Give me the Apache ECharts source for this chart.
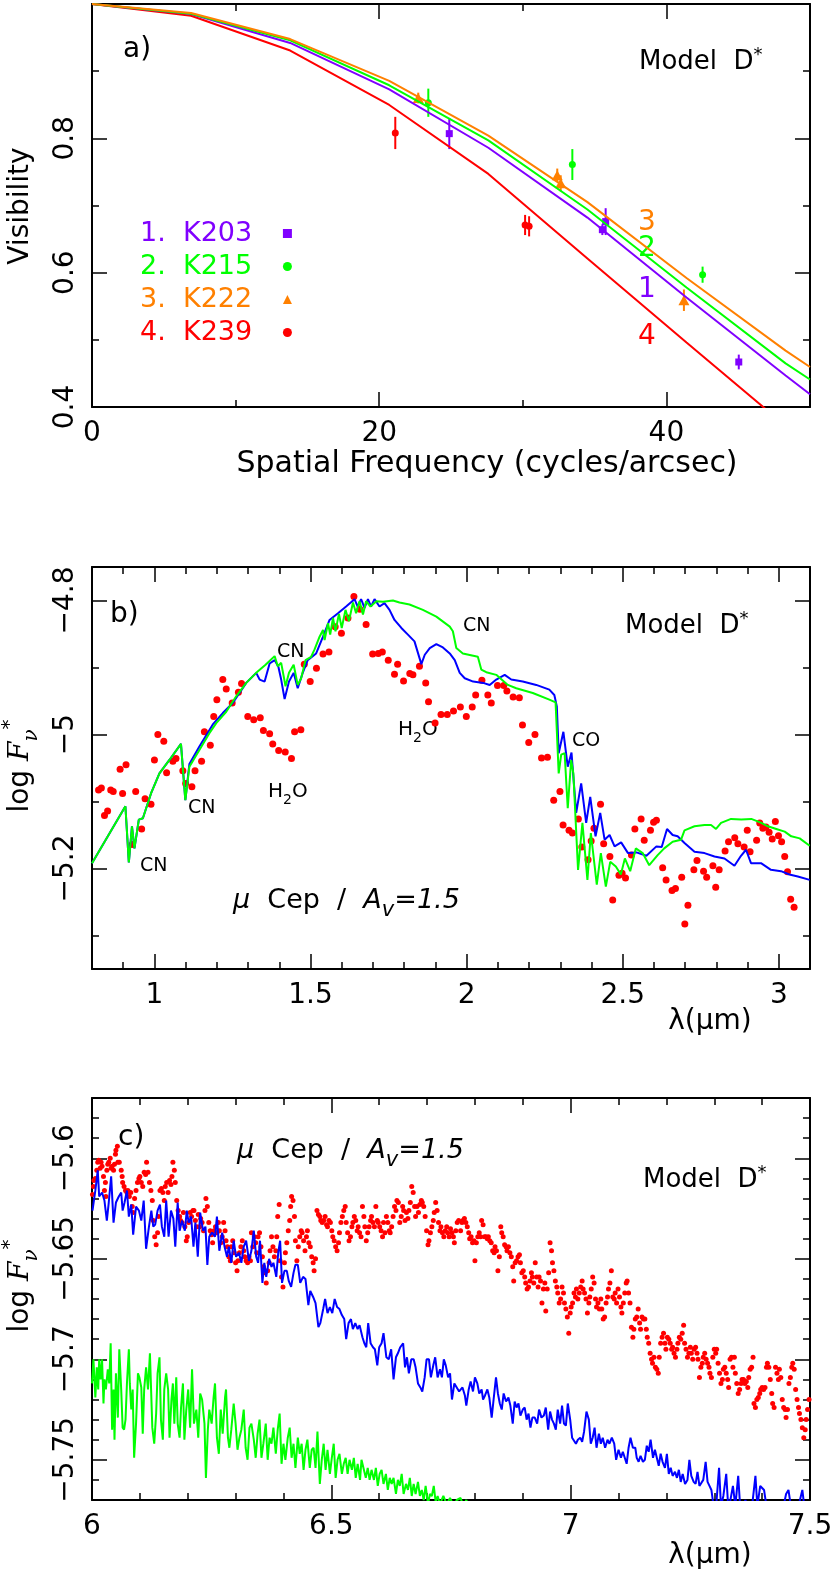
<!DOCTYPE html>
<html>
<head>
<meta charset="utf-8">
<title>Model D* visibilities and spectra</title>
<script src="https://cdn.jsdelivr.net/npm/echarts@6.0.0/dist/echarts.min.js"></script>
<style>
html, body { margin: 0; padding: 0; background: #fff; }
#chart { width: 830px; height: 1571px; }
</style>
</head>
<body>
<div id="chart"></div>
<script>
var FONT = '"DejaVu Sans", sans-serif';
var PURPLE = '#8000ff', GREEN = '#00ff00', ORANGE = '#ff8000', RED = '#ff0000', BLUE = '#0000ff';

// ---- panel a : visibilities
var freqKnots = [0, 6.9, 13.8, 20.7, 27.6, 34.5, 41.4, 48.3, 50];
var modelK203 = [1, 0.985, 0.942, 0.873, 0.786, 0.682, 0.563, 0.447, 0.419];
var modelK215 = [1, 0.9856, 0.9458, 0.879, 0.797, 0.694, 0.578, 0.465, 0.441];
var modelK222 = [1, 0.9866, 0.9478, 0.8855, 0.804, 0.705, 0.592, 0.484, 0.4595];
var modelK239 = [1, 0.9825, 0.9307, 0.8497, 0.747, 0.621, 0.496, 0.372, 0.341];

var obsK203 = [[24.88, 0.807], [35.54, 0.664], [35.77, 0.676], [45.04, 0.467]];
var errK203 = [0.023, 0.008, 0.020, 0.011];
var obsK215 = [[23.42, 0.853], [33.45, 0.761], [42.52, 0.597]];
var errK215 = [0.021, 0.023, 0.012];
var obsK222 = [[22.72, 0.860], [32.40, 0.745], [32.64, 0.733], [41.22, 0.559]];
var errK222 = [0.008, 0.010, 0.012, 0.016];
var obsK239 = [[21.12, 0.808], [30.16, 0.671], [30.44, 0.669]];
var errK239 = [0.024, 0.015, 0.015];

var starNames = ['1.  K203', '2.  K215', '3.  K222', '4.  K239'];

var freqTicks = [10, 20, 30, 40], freqMajor = [20, 40], freqLabels = [0, 20, 40];
var visTicks = [0.5, 0.6, 0.7, 0.8, 0.9], visMajor = [0.6, 0.8], visLabels = [0.4, 0.6, 0.8];

// ---- panel b : near-IR spectrum
var nirTicks = [0.9, 1, 1.1, 1.2, 1.3, 1.4, 1.5, 1.6, 1.7, 1.8, 1.9, 2, 2.1, 2.2, 2.3, 2.4, 2.5, 2.6, 2.7, 2.8, 2.9, 3];
var nirMajor = [1, 1.5, 2, 2.5, 3], nirLabels = [1, 1.5, 2, 2.5, 3];
var nirFluxTicks = [-5.3, -5.2, -5.1, -5, -4.9, -4.8], nirFluxMajor = [-5.2, -5, -4.8], nirFluxLabels = [-5.2, -5, -4.8];

var nirGreen = [[0.800,-5.192],[0.907,-5.107],[0.918,-5.191],[0.928,-5.137],[0.936,-5.170],[0.950,-5.127],[0.963,-5.125],[0.989,-5.088],[1.016,-5.058],[1.048,-5.038],[1.085,-5.014],[1.099,-5.098],[1.112,-5.048],[1.144,-5.023],[1.176,-4.998],[1.198,-4.983],[1.230,-4.966],[1.262,-4.943],[1.294,-4.923],[1.326,-4.908],[1.356,-4.896],[1.385,-4.883],[1.395,-4.898],[1.406,-4.893],[1.420,-4.928],[1.431,-4.908],[1.446,-4.896],[1.459,-4.926],[1.470,-4.916],[1.484,-4.889],[1.502,-4.884],[1.513,-4.873],[1.529,-4.854],[1.540,-4.844],[1.545,-4.859],[1.556,-4.834],[1.563,-4.851],[1.572,-4.826],[1.580,-4.846],[1.591,-4.820],[1.600,-4.841],[1.612,-4.814],[1.623,-4.831],[1.636,-4.803],[1.646,-4.819],[1.657,-4.801],[1.668,-4.821],[1.678,-4.801],[1.692,-4.809],[1.711,-4.801],[1.732,-4.802],[1.764,-4.800],[1.785,-4.803],[1.817,-4.806],[1.860,-4.814],[1.903,-4.824],[1.946,-4.839],[1.956,-4.846],[1.967,-4.871],[1.988,-4.879],[2.036,-4.884],[2.047,-4.903],[2.063,-4.907],[2.095,-4.911],[2.132,-4.926],[2.159,-4.931],[2.212,-4.938],[2.265,-4.948],[2.285,-4.952],[2.295,-5.058],[2.303,-5.030],[2.314,-5.028],[2.324,-5.110],[2.335,-5.038],[2.342,-5.058],[2.357,-5.202],[2.371,-5.132],[2.387,-5.217],[2.398,-5.147],[2.417,-5.224],[2.430,-5.177],[2.446,-5.227],[2.460,-5.190],[2.478,-5.197],[2.494,-5.209],[2.507,-5.185],[2.524,-5.204],[2.542,-5.170],[2.564,-5.177],[2.585,-5.195],[2.612,-5.180],[2.633,-5.170],[2.660,-5.160],[2.687,-5.157],[2.698,-5.143],[2.730,-5.137],[2.762,-5.135],[2.783,-5.135],[2.799,-5.141],[2.815,-5.132],[2.847,-5.126],[2.880,-5.127],[2.912,-5.126],[2.944,-5.132],[2.965,-5.137],[2.992,-5.141],[3.019,-5.145],[3.040,-5.152],[3.067,-5.155],[3.099,-5.166]];

var nirBlue = [[0.800,-5.192],[0.907,-5.107],[0.918,-5.191],[0.928,-5.137],[0.936,-5.170],[0.950,-5.127],[0.963,-5.125],[0.989,-5.088],[1.016,-5.058],[1.048,-5.038],[1.085,-5.014],[1.099,-5.098],[1.112,-5.044],[1.144,-5.018],[1.187,-4.985],[1.219,-4.968],[1.251,-4.953],[1.294,-4.923],[1.326,-4.908],[1.337,-4.918],[1.353,-4.921],[1.369,-4.894],[1.385,-4.889],[1.397,-4.899],[1.406,-4.918],[1.417,-4.947],[1.431,-4.921],[1.446,-4.908],[1.459,-4.931],[1.475,-4.908],[1.491,-4.889],[1.518,-4.879],[1.540,-4.854],[1.561,-4.829],[1.588,-4.819],[1.614,-4.809],[1.641,-4.798],[1.651,-4.809],[1.662,-4.798],[1.673,-4.811],[1.684,-4.798],[1.694,-4.809],[1.705,-4.798],[1.721,-4.809],[1.737,-4.804],[1.753,-4.814],[1.769,-4.829],[1.791,-4.841],[1.812,-4.851],[1.833,-4.861],[1.855,-4.895],[1.866,-4.881],[1.882,-4.871],[1.903,-4.865],[1.924,-4.870],[1.946,-4.879],[1.962,-4.889],[1.978,-4.908],[1.994,-4.916],[2.021,-4.921],[2.053,-4.923],[2.074,-4.926],[2.095,-4.918],[2.122,-4.911],[2.143,-4.918],[2.180,-4.921],[2.223,-4.926],[2.265,-4.933],[2.281,-4.941],[2.289,-4.958],[2.295,-5.028],[2.310,-4.996],[2.324,-5.048],[2.336,-5.027],[2.351,-5.117],[2.367,-5.073],[2.383,-5.132],[2.396,-5.093],[2.413,-5.152],[2.428,-5.117],[2.442,-5.157],[2.458,-5.150],[2.474,-5.167],[2.495,-5.161],[2.517,-5.177],[2.544,-5.176],[2.576,-5.181],[2.608,-5.167],[2.625,-5.168],[2.642,-5.141],[2.660,-5.150],[2.676,-5.152],[2.698,-5.162],[2.730,-5.175],[2.762,-5.177],[2.794,-5.182],[2.826,-5.185],[2.858,-5.196],[2.879,-5.181],[2.895,-5.172],[2.911,-5.192],[2.943,-5.192],[2.975,-5.202],[3.007,-5.204],[3.034,-5.209],[3.061,-5.212],[3.099,-5.217]];

var nirObs = [[0.821,-5.083],[0.830,-5.080],[0.840,-5.121],[0.850,-5.114],[0.860,-5.083],[0.868,-5.085],[0.890,-5.052],[0.898,-5.088],[0.909,-5.045],[0.929,-5.164],[0.940,-5.085],[0.959,-5.141],[0.970,-5.096],[0.989,-5.104],[1.000,-5.038],[1.011,-5.000],[1.030,-5.010],[1.039,-5.057],[1.059,-5.040],[1.069,-5.036],[1.091,-5.054],[1.100,-5.073],[1.120,-5.078],[1.130,-5.054],[1.151,-5.040],[1.160,-4.996],[1.179,-5.016],[1.190,-4.973],[1.200,-4.948],[1.219,-4.918],[1.230,-4.932],[1.249,-4.953],[1.269,-4.937],[1.279,-4.924],[1.299,-4.973],[1.318,-4.978],[1.339,-4.975],[1.349,-4.994],[1.369,-4.999],[1.379,-5.014],[1.398,-5.024],[1.419,-5.026],[1.439,-5.036],[1.449,-4.996],[1.469,-4.993],[1.480,-4.895],[1.499,-4.921],[1.519,-4.901],[1.540,-4.880],[1.559,-4.877],[1.579,-4.839],[1.599,-4.849],[1.620,-4.826],[1.639,-4.794],[1.658,-4.813],[1.678,-4.836],[1.699,-4.880],[1.717,-4.879],[1.730,-4.877],[1.749,-4.889],[1.769,-4.910],[1.779,-4.895],[1.798,-4.920],[1.818,-4.909],[1.828,-4.911],[1.849,-4.898],[1.869,-4.923],[1.878,-4.951],[1.899,-4.983],[1.918,-4.970],[1.938,-4.970],[1.958,-4.965],[1.980,-4.959],[1.999,-4.973],[2.018,-4.959],[2.029,-4.941],[2.049,-4.919],[2.068,-4.941],[2.079,-4.953],[2.099,-4.927],[2.119,-4.927],[2.129,-4.935],[2.149,-4.944],[2.169,-4.945],[2.179,-4.986],[2.199,-5.012],[2.219,-5.000],[2.240,-5.035],[2.259,-5.034],[2.279,-5.098],[2.299,-5.085],[2.309,-5.135],[2.328,-5.143],[2.339,-5.147],[2.358,-5.126],[2.369,-5.168],[2.389,-5.187],[2.399,-5.159],[2.408,-5.140],[2.429,-5.104],[2.439,-5.163],[2.459,-5.182],[2.468,-5.247],[2.488,-5.210],[2.498,-5.207],[2.509,-5.214],[2.528,-5.180],[2.539,-5.141],[2.559,-5.126],[2.569,-5.158],[2.589,-5.143],[2.599,-5.131],[2.608,-5.128],[2.628,-5.199],[2.639,-5.217],[2.658,-5.233],[2.669,-5.230],[2.689,-5.213],[2.699,-5.283],[2.709,-5.255],[2.728,-5.202],[2.738,-5.188],[2.759,-5.204],[2.769,-5.213],[2.789,-5.196],[2.798,-5.228],[2.809,-5.202],[2.828,-5.174],[2.839,-5.160],[2.859,-5.154],[2.869,-5.163],[2.889,-5.168],[2.899,-5.143],[2.908,-5.175],[2.929,-5.158],[2.939,-5.132],[2.949,-5.140],[2.959,-5.138],[2.969,-5.146],[2.979,-5.156],[2.989,-5.130],[2.999,-5.151],[3.009,-5.160],[3.019,-5.182],[3.028,-5.205],[3.038,-5.246],[3.049,-5.258]];

// ---- panel c : mid-IR spectrum
var midTicks = [6.1, 6.2, 6.3, 6.4, 6.5, 6.6, 6.7, 6.8, 6.9, 7, 7.1, 7.2, 7.3, 7.4];
var midMajor = [6.5, 7], midLabels = [6, 6.5, 7, 7.5];
var midFluxTicks = [-5.76, -5.75, -5.74, -5.73, -5.72, -5.71, -5.7, -5.69, -5.68, -5.67, -5.66, -5.65, -5.64, -5.63, -5.62, -5.61, -5.6, -5.59, -5.58];
var midFluxMajor = [-5.75, -5.7, -5.65, -5.6], midFluxLabels = [-5.75, -5.7, -5.65, -5.6];

var midBlue = [[6.001,-5.626],[6.007,-5.616],[6.012,-5.606],[6.015,-5.619],[6.021,-5.617],[6.026,-5.621],[6.031,-5.631],[6.035,-5.622],[6.040,-5.609],[6.045,-5.632],[6.050,-5.622],[6.056,-5.619],[6.061,-5.617],[6.064,-5.626],[6.068,-5.622],[6.073,-5.616],[6.077,-5.629],[6.082,-5.623],[6.086,-5.638],[6.092,-5.624],[6.098,-5.626],[6.103,-5.631],[6.108,-5.621],[6.113,-5.645],[6.119,-5.634],[6.124,-5.626],[6.128,-5.634],[6.132,-5.633],[6.137,-5.626],[6.142,-5.623],[6.146,-5.634],[6.151,-5.639],[6.155,-5.621],[6.160,-5.639],[6.165,-5.626],[6.170,-5.630],[6.174,-5.644],[6.179,-5.622],[6.183,-5.636],[6.188,-5.631],[6.194,-5.636],[6.198,-5.626],[6.202,-5.632],[6.207,-5.629],[6.212,-5.644],[6.216,-5.632],[6.221,-5.649],[6.226,-5.627],[6.232,-5.636],[6.237,-5.634],[6.241,-5.653],[6.245,-5.639],[6.251,-5.637],[6.257,-5.639],[6.261,-5.629],[6.266,-5.646],[6.272,-5.637],[6.277,-5.644],[6.282,-5.649],[6.286,-5.644],[6.291,-5.652],[6.296,-5.641],[6.301,-5.649],[6.307,-5.647],[6.312,-5.652],[6.317,-5.644],[6.322,-5.641],[6.328,-5.651],[6.333,-5.646],[6.338,-5.636],[6.343,-5.649],[6.347,-5.652],[6.351,-5.641],[6.356,-5.662],[6.360,-5.652],[6.364,-5.659],[6.370,-5.650],[6.375,-5.654],[6.379,-5.652],[6.385,-5.659],[6.389,-5.647],[6.393,-5.641],[6.397,-5.662],[6.402,-5.656],[6.407,-5.656],[6.411,-5.661],[6.416,-5.664],[6.421,-5.657],[6.425,-5.653],[6.430,-5.653],[6.435,-5.662],[6.441,-5.659],[6.446,-5.660],[6.452,-5.673],[6.456,-5.666],[6.462,-5.669],[6.467,-5.672],[6.473,-5.684],[6.477,-5.682],[6.483,-5.675],[6.487,-5.670],[6.492,-5.677],[6.497,-5.674],[6.502,-5.677],[6.507,-5.670],[6.512,-5.674],[6.517,-5.675],[6.522,-5.678],[6.527,-5.680],[6.531,-5.690],[6.536,-5.682],[6.541,-5.680],[6.545,-5.685],[6.550,-5.682],[6.555,-5.685],[6.559,-5.683],[6.565,-5.689],[6.569,-5.692],[6.573,-5.694],[6.577,-5.682],[6.582,-5.692],[6.587,-5.694],[6.591,-5.695],[6.596,-5.703],[6.600,-5.694],[6.605,-5.692],[6.609,-5.687],[6.615,-5.699],[6.620,-5.700],[6.625,-5.695],[6.630,-5.710],[6.635,-5.699],[6.639,-5.697],[6.644,-5.694],[6.650,-5.692],[6.654,-5.704],[6.658,-5.699],[6.662,-5.707],[6.667,-5.700],[6.672,-5.700],[6.676,-5.704],[6.681,-5.712],[6.686,-5.714],[6.690,-5.716],[6.695,-5.709],[6.699,-5.700],[6.704,-5.700],[6.708,-5.709],[6.713,-5.703],[6.717,-5.699],[6.722,-5.709],[6.727,-5.705],[6.731,-5.709],[6.735,-5.700],[6.739,-5.703],[6.744,-5.709],[6.748,-5.707],[6.752,-5.720],[6.757,-5.712],[6.762,-5.714],[6.767,-5.716],[6.774,-5.714],[6.779,-5.718],[6.782,-5.723],[6.787,-5.715],[6.791,-5.711],[6.796,-5.716],[6.800,-5.709],[6.805,-5.712],[6.809,-5.717],[6.814,-5.715],[6.817,-5.720],[6.821,-5.718],[6.826,-5.715],[6.830,-5.719],[6.835,-5.729],[6.839,-5.720],[6.844,-5.709],[6.848,-5.717],[6.852,-5.722],[6.856,-5.725],[6.860,-5.717],[6.865,-5.721],[6.870,-5.719],[6.874,-5.723],[6.879,-5.732],[6.883,-5.721],[6.887,-5.724],[6.891,-5.722],[6.895,-5.728],[6.900,-5.725],[6.904,-5.724],[6.908,-5.730],[6.912,-5.727],[6.916,-5.734],[6.920,-5.729],[6.925,-5.729],[6.930,-5.732],[6.934,-5.725],[6.939,-5.729],[6.944,-5.728],[6.948,-5.724],[6.953,-5.735],[6.957,-5.726],[6.961,-5.730],[6.965,-5.732],[6.969,-5.735],[6.973,-5.725],[6.978,-5.732],[6.982,-5.723],[6.986,-5.732],[6.990,-5.733],[6.994,-5.722],[6.999,-5.730],[7.003,-5.739],[7.007,-5.739],[7.011,-5.742],[7.015,-5.740],[7.020,-5.739],[7.024,-5.741],[7.028,-5.736],[7.033,-5.726],[7.038,-5.730],[7.042,-5.742],[7.046,-5.739],[7.050,-5.734],[7.054,-5.744],[7.059,-5.737],[7.063,-5.742],[7.067,-5.739],[7.072,-5.744],[7.077,-5.740],[7.081,-5.742],[7.086,-5.739],[7.091,-5.742],[7.095,-5.750],[7.100,-5.745],[7.105,-5.749],[7.109,-5.746],[7.113,-5.749],[7.117,-5.752],[7.121,-5.744],[7.125,-5.739],[7.130,-5.744],[7.135,-5.744],[7.138,-5.749],[7.142,-5.751],[7.146,-5.748],[7.151,-5.751],[7.155,-5.750],[7.159,-5.743],[7.163,-5.746],[7.167,-5.740],[7.172,-5.749],[7.176,-5.745],[7.180,-5.749],[7.184,-5.753],[7.188,-5.747],[7.192,-5.751],[7.197,-5.754],[7.201,-5.747],[7.205,-5.757],[7.209,-5.754],[7.213,-5.758],[7.218,-5.756],[7.222,-5.759],[7.226,-5.755],[7.230,-5.761],[7.234,-5.757],[7.239,-5.762],[7.244,-5.760],[7.248,-5.750],[7.252,-5.758],[7.257,-5.761],[7.261,-5.762],[7.265,-5.756],[7.269,-5.763],[7.273,-5.763],[7.277,-5.760],[7.282,-5.751],[7.286,-5.761],[7.290,-5.763],[7.294,-5.765],[7.298,-5.772],[7.304,-5.773],[7.310,-5.754],[7.314,-5.773],[7.319,-5.768],[7.325,-5.757],[7.329,-5.773],[7.333,-5.771],[7.339,-5.763],[7.344,-5.773],[7.350,-5.758],[7.354,-5.773],[7.361,-5.773],[7.365,-5.770],[7.370,-5.773],[7.375,-5.772],[7.379,-5.773],[7.386,-5.758],[7.390,-5.773],[7.396,-5.763],[7.400,-5.764],[7.404,-5.765],[7.409,-5.773],[7.445,-5.773],[7.450,-5.767],[7.455,-5.765],[7.460,-5.773],[7.476,-5.773],[7.480,-5.769],[7.484,-5.765],[7.488,-5.773],[7.501,-5.773]];

var midGreen = [[6.000,-5.712],[6.003,-5.700],[6.007,-5.719],[6.010,-5.704],[6.013,-5.715],[6.015,-5.700],[6.018,-5.710],[6.021,-5.700],[6.024,-5.722],[6.026,-5.710],[6.029,-5.715],[6.033,-5.705],[6.036,-5.712],[6.039,-5.692],[6.042,-5.735],[6.045,-5.715],[6.047,-5.740],[6.050,-5.707],[6.054,-5.729],[6.057,-5.695],[6.061,-5.715],[6.064,-5.734],[6.067,-5.735],[6.070,-5.730],[6.073,-5.712],[6.077,-5.695],[6.079,-5.712],[6.082,-5.725],[6.085,-5.715],[6.088,-5.749],[6.092,-5.732],[6.096,-5.707],[6.099,-5.709],[6.103,-5.714],[6.106,-5.737],[6.109,-5.715],[6.113,-5.704],[6.117,-5.715],[6.121,-5.697],[6.126,-5.734],[6.130,-5.742],[6.134,-5.727],[6.137,-5.707],[6.141,-5.699],[6.144,-5.730],[6.148,-5.740],[6.151,-5.715],[6.155,-5.707],[6.159,-5.715],[6.162,-5.739],[6.166,-5.720],[6.169,-5.712],[6.172,-5.732],[6.176,-5.709],[6.179,-5.732],[6.183,-5.739],[6.186,-5.724],[6.190,-5.712],[6.193,-5.740],[6.197,-5.725],[6.201,-5.715],[6.205,-5.734],[6.209,-5.705],[6.213,-5.732],[6.218,-5.725],[6.222,-5.739],[6.226,-5.717],[6.230,-5.720],[6.235,-5.732],[6.238,-5.759],[6.242,-5.735],[6.245,-5.725],[6.250,-5.732],[6.254,-5.719],[6.257,-5.712],[6.261,-5.739],[6.265,-5.747],[6.269,-5.725],[6.273,-5.737],[6.278,-5.719],[6.280,-5.715],[6.284,-5.739],[6.287,-5.744],[6.291,-5.735],[6.296,-5.722],[6.300,-5.732],[6.304,-5.745],[6.308,-5.739],[6.312,-5.735],[6.317,-5.725],[6.321,-5.744],[6.325,-5.750],[6.329,-5.734],[6.333,-5.732],[6.338,-5.740],[6.342,-5.749],[6.346,-5.737],[6.350,-5.730],[6.354,-5.749],[6.358,-5.742],[6.363,-5.732],[6.367,-5.750],[6.371,-5.739],[6.375,-5.742],[6.379,-5.734],[6.384,-5.747],[6.388,-5.735],[6.392,-5.727],[6.396,-5.752],[6.400,-5.742],[6.404,-5.750],[6.409,-5.739],[6.413,-5.734],[6.417,-5.749],[6.421,-5.742],[6.425,-5.754],[6.430,-5.739],[6.434,-5.747],[6.438,-5.742],[6.442,-5.755],[6.446,-5.745],[6.450,-5.740],[6.455,-5.754],[6.459,-5.745],[6.463,-5.744],[6.467,-5.754],[6.471,-5.736],[6.476,-5.762],[6.480,-5.750],[6.484,-5.742],[6.488,-5.755],[6.492,-5.745],[6.497,-5.757],[6.501,-5.749],[6.505,-5.742],[6.509,-5.759],[6.513,-5.750],[6.517,-5.747],[6.522,-5.757],[6.526,-5.752],[6.530,-5.749],[6.534,-5.757],[6.538,-5.750],[6.543,-5.755],[6.547,-5.749],[6.551,-5.759],[6.555,-5.752],[6.560,-5.760],[6.563,-5.750],[6.568,-5.755],[6.572,-5.759],[6.576,-5.754],[6.580,-5.760],[6.584,-5.755],[6.589,-5.760],[6.593,-5.754],[6.597,-5.763],[6.601,-5.757],[6.605,-5.755],[6.609,-5.762],[6.614,-5.757],[6.618,-5.765],[6.622,-5.759],[6.626,-5.762],[6.630,-5.759],[6.635,-5.767],[6.639,-5.760],[6.643,-5.763],[6.647,-5.757],[6.651,-5.767],[6.656,-5.762],[6.660,-5.765],[6.664,-5.759],[6.668,-5.768],[6.672,-5.762],[6.676,-5.767],[6.681,-5.761],[6.685,-5.768],[6.689,-5.765],[6.693,-5.770],[6.697,-5.763],[6.702,-5.772],[6.706,-5.767],[6.710,-5.768],[6.714,-5.763],[6.718,-5.771],[6.722,-5.768],[6.727,-5.772],[6.734,-5.768],[6.741,-5.772],[6.748,-5.769],[6.756,-5.773],[6.762,-5.770],[6.770,-5.769],[6.776,-5.773],[6.782,-5.770],[6.790,-5.775]];

var midObs = [[6.001,-5.618],[6.003,-5.614],[6.004,-5.611],[6.007,-5.610],[6.010,-5.606],[6.012,-5.602],[6.014,-5.601],[6.017,-5.605],[6.019,-5.602],[6.021,-5.604],[6.024,-5.609],[6.026,-5.616],[6.028,-5.612],[6.029,-5.619],[6.031,-5.606],[6.033,-5.603],[6.035,-5.602],[6.038,-5.600],[6.040,-5.605],[6.042,-5.604],[6.045,-5.606],[6.047,-5.603],[6.049,-5.598],[6.050,-5.596],[6.053,-5.594],[6.054,-5.602],[6.057,-5.602],[6.061,-5.606],[6.063,-5.609],[6.064,-5.612],[6.067,-5.614],[6.070,-5.616],[6.073,-5.617],[6.075,-5.616],[6.078,-5.619],[6.081,-5.617],[6.084,-5.624],[6.086,-5.627],[6.089,-5.620],[6.092,-5.616],[6.095,-5.612],[6.098,-5.610],[6.100,-5.609],[6.103,-5.612],[6.106,-5.614],[6.109,-5.607],[6.112,-5.608],[6.114,-5.602],[6.117,-5.607],[6.120,-5.612],[6.123,-5.616],[6.126,-5.621],[6.128,-5.631],[6.131,-5.639],[6.134,-5.643],[6.137,-5.637],[6.139,-5.629],[6.142,-5.616],[6.145,-5.615],[6.148,-5.617],[6.151,-5.621],[6.153,-5.614],[6.156,-5.612],[6.159,-5.617],[6.162,-5.611],[6.165,-5.613],[6.167,-5.609],[6.169,-5.602],[6.172,-5.606],[6.174,-5.612],[6.177,-5.621],[6.180,-5.626],[6.183,-5.629],[6.185,-5.631],[6.188,-5.632],[6.191,-5.627],[6.194,-5.634],[6.197,-5.641],[6.199,-5.639],[6.202,-5.632],[6.205,-5.627],[6.208,-5.629],[6.211,-5.626],[6.213,-5.626],[6.216,-5.631],[6.219,-5.634],[6.222,-5.628],[6.225,-5.634],[6.227,-5.630],[6.230,-5.632],[6.233,-5.636],[6.236,-5.626],[6.238,-5.620],[6.241,-5.624],[6.244,-5.632],[6.247,-5.636],[6.250,-5.638],[6.252,-5.642],[6.255,-5.636],[6.258,-5.634],[6.261,-5.637],[6.264,-5.632],[6.266,-5.636],[6.269,-5.642],[6.272,-5.639],[6.275,-5.632],[6.278,-5.636],[6.280,-5.641],[6.283,-5.644],[6.286,-5.649],[6.289,-5.651],[6.291,-5.644],[6.294,-5.641],[6.297,-5.647],[6.300,-5.652],[6.303,-5.656],[6.305,-5.651],[6.308,-5.647],[6.311,-5.644],[6.314,-5.641],[6.317,-5.646],[6.319,-5.649],[6.322,-5.651],[6.325,-5.652],[6.328,-5.649],[6.331,-5.651],[6.333,-5.637],[6.336,-5.644],[6.339,-5.639],[6.342,-5.642],[6.344,-5.647],[6.347,-5.639],[6.350,-5.637],[6.353,-5.644],[6.356,-5.649],[6.358,-5.654],[6.361,-5.657],[6.364,-5.662],[6.367,-5.656],[6.370,-5.652],[6.372,-5.646],[6.375,-5.639],[6.378,-5.644],[6.381,-5.649],[6.384,-5.646],[6.386,-5.639],[6.388,-5.629],[6.391,-5.623],[6.393,-5.651],[6.396,-5.659],[6.399,-5.664],[6.402,-5.652],[6.404,-5.647],[6.407,-5.642],[6.410,-5.636],[6.413,-5.631],[6.415,-5.624],[6.417,-5.619],[6.420,-5.621],[6.423,-5.629],[6.425,-5.641],[6.428,-5.651],[6.431,-5.644],[6.434,-5.639],[6.437,-5.636],[6.439,-5.637],[6.442,-5.641],[6.445,-5.646],[6.448,-5.639],[6.450,-5.636],[6.453,-5.642],[6.456,-5.644],[6.459,-5.649],[6.462,-5.652],[6.464,-5.656],[6.467,-5.650],[6.470,-5.626],[6.473,-5.628],[6.476,-5.629],[6.478,-5.631],[6.481,-5.632],[6.484,-5.631],[6.487,-5.629],[6.490,-5.633],[6.492,-5.634],[6.495,-5.631],[6.498,-5.632],[6.501,-5.636],[6.503,-5.639],[6.506,-5.641],[6.509,-5.644],[6.512,-5.646],[6.515,-5.642],[6.517,-5.637],[6.520,-5.632],[6.523,-5.629],[6.526,-5.626],[6.529,-5.624],[6.531,-5.632],[6.534,-5.637],[6.537,-5.641],[6.540,-5.639],[6.543,-5.634],[6.545,-5.632],[6.548,-5.629],[6.551,-5.631],[6.554,-5.636],[6.556,-5.634],[6.559,-5.637],[6.562,-5.639],[6.565,-5.624],[6.568,-5.629],[6.570,-5.634],[6.573,-5.641],[6.576,-5.637],[6.579,-5.634],[6.582,-5.631],[6.584,-5.629],[6.587,-5.632],[6.590,-5.634],[6.593,-5.624],[6.596,-5.631],[6.598,-5.632],[6.601,-5.634],[6.604,-5.636],[6.607,-5.639],[6.609,-5.632],[6.612,-5.637],[6.615,-5.629],[6.618,-5.632],[6.621,-5.636],[6.623,-5.637],[6.626,-5.634],[6.629,-5.629],[6.632,-5.624],[6.635,-5.626],[6.637,-5.621],[6.640,-5.622],[6.643,-5.632],[6.646,-5.629],[6.649,-5.624],[6.651,-5.626],[6.654,-5.631],[6.657,-5.627],[6.660,-5.630],[6.662,-5.626],[6.665,-5.622],[6.668,-5.614],[6.671,-5.617],[6.674,-5.624],[6.676,-5.629],[6.679,-5.624],[6.682,-5.627],[6.685,-5.623],[6.688,-5.621],[6.690,-5.622],[6.693,-5.624],[6.696,-5.629],[6.699,-5.636],[6.702,-5.643],[6.704,-5.641],[6.707,-5.637],[6.710,-5.634],[6.713,-5.631],[6.715,-5.627],[6.718,-5.622],[6.721,-5.626],[6.724,-5.632],[6.727,-5.636],[6.729,-5.634],[6.732,-5.637],[6.735,-5.639],[6.738,-5.636],[6.741,-5.634],[6.743,-5.637],[6.746,-5.639],[6.749,-5.635],[6.752,-5.637],[6.755,-5.639],[6.757,-5.642],[6.760,-5.636],[6.763,-5.632],[6.766,-5.631],[6.770,-5.636],[6.773,-5.632],[6.775,-5.631],[6.778,-5.630],[6.781,-5.632],[6.784,-5.634],[6.787,-5.637],[6.789,-5.640],[6.792,-5.639],[6.795,-5.642],[6.798,-5.641],[6.800,-5.651],[6.803,-5.642],[6.806,-5.639],[6.809,-5.637],[6.812,-5.639],[6.814,-5.631],[6.817,-5.633],[6.820,-5.639],[6.823,-5.639],[6.826,-5.640],[6.828,-5.639],[6.831,-5.641],[6.834,-5.642],[6.837,-5.646],[6.840,-5.647],[6.842,-5.644],[6.845,-5.646],[6.848,-5.656],[6.851,-5.649],[6.854,-5.634],[6.856,-5.637],[6.859,-5.639],[6.862,-5.643],[6.865,-5.644],[6.867,-5.646],[6.870,-5.644],[6.873,-5.647],[6.876,-5.649],[6.879,-5.654],[6.881,-5.661],[6.884,-5.652],[6.887,-5.651],[6.890,-5.649],[6.893,-5.648],[6.895,-5.652],[6.898,-5.657],[6.901,-5.656],[6.904,-5.659],[6.906,-5.662],[6.909,-5.665],[6.912,-5.664],[6.915,-5.661],[6.918,-5.657],[6.920,-5.659],[6.923,-5.662],[6.926,-5.652],[6.929,-5.659],[6.932,-5.664],[6.934,-5.659],[6.937,-5.661],[6.940,-5.672],[6.943,-5.665],[6.946,-5.662],[6.948,-5.676],[6.951,-5.665],[6.954,-5.657],[6.957,-5.642],[6.960,-5.646],[6.962,-5.652],[6.965,-5.656],[6.968,-5.661],[6.971,-5.664],[6.973,-5.667],[6.976,-5.672],[6.979,-5.670],[6.982,-5.664],[6.985,-5.667],[6.987,-5.672],[6.990,-5.675],[6.993,-5.679],[6.996,-5.687],[6.999,-5.677],[7.001,-5.674],[7.004,-5.672],[7.007,-5.667],[7.010,-5.669],[7.012,-5.665],[7.015,-5.670],[7.018,-5.667],[7.021,-5.664],[7.024,-5.661],[7.026,-5.665],[7.029,-5.667],[7.032,-5.670],[7.035,-5.677],[7.038,-5.672],[7.040,-5.669],[7.043,-5.665],[7.046,-5.659],[7.049,-5.662],[7.052,-5.670],[7.054,-5.674],[7.057,-5.672],[7.060,-5.675],[7.063,-5.670],[7.065,-5.675],[7.068,-5.680],[7.071,-5.679],[7.074,-5.672],[7.077,-5.669],[7.079,-5.665],[7.082,-5.662],[7.085,-5.656],[7.088,-5.669],[7.091,-5.670],[7.093,-5.667],[7.096,-5.672],[7.099,-5.665],[7.102,-5.669],[7.105,-5.674],[7.107,-5.677],[7.110,-5.672],[7.113,-5.667],[7.116,-5.662],[7.118,-5.661],[7.121,-5.667],[7.124,-5.672],[7.127,-5.684],[7.130,-5.689],[7.132,-5.685],[7.135,-5.680],[7.138,-5.679],[7.141,-5.675],[7.144,-5.682],[7.146,-5.685],[7.149,-5.679],[7.152,-5.680],[7.155,-5.680],[7.158,-5.685],[7.160,-5.689],[7.163,-5.692],[7.166,-5.697],[7.169,-5.700],[7.171,-5.702],[7.174,-5.699],[7.177,-5.704],[7.180,-5.705],[7.183,-5.707],[7.185,-5.699],[7.188,-5.692],[7.191,-5.689],[7.194,-5.687],[7.197,-5.692],[7.199,-5.695],[7.202,-5.689],[7.205,-5.690],[7.208,-5.692],[7.211,-5.695],[7.213,-5.694],[7.216,-5.697],[7.219,-5.699],[7.222,-5.695],[7.224,-5.692],[7.227,-5.689],[7.230,-5.690],[7.233,-5.687],[7.236,-5.683],[7.238,-5.692],[7.241,-5.695],[7.244,-5.699],[7.247,-5.697],[7.250,-5.694],[7.252,-5.697],[7.255,-5.700],[7.258,-5.695],[7.261,-5.694],[7.264,-5.697],[7.266,-5.700],[7.269,-5.709],[7.272,-5.704],[7.275,-5.702],[7.277,-5.699],[7.280,-5.697],[7.283,-5.700],[7.286,-5.702],[7.289,-5.704],[7.291,-5.707],[7.294,-5.709],[7.297,-5.699],[7.300,-5.695],[7.303,-5.697],[7.305,-5.695],[7.308,-5.702],[7.311,-5.707],[7.314,-5.712],[7.317,-5.710],[7.319,-5.705],[7.322,-5.704],[7.325,-5.707],[7.328,-5.710],[7.330,-5.714],[7.333,-5.700],[7.336,-5.699],[7.339,-5.704],[7.342,-5.699],[7.344,-5.707],[7.347,-5.712],[7.350,-5.717],[7.353,-5.715],[7.356,-5.712],[7.358,-5.710],[7.361,-5.710],[7.364,-5.712],[7.367,-5.711],[7.370,-5.714],[7.372,-5.709],[7.375,-5.705],[7.378,-5.704],[7.381,-5.699],[7.383,-5.722],[7.386,-5.724],[7.389,-5.720],[7.392,-5.719],[7.395,-5.717],[7.397,-5.715],[7.400,-5.714],[7.403,-5.715],[7.406,-5.714],[7.409,-5.704],[7.411,-5.702],[7.414,-5.704],[7.417,-5.710],[7.420,-5.717],[7.422,-5.722],[7.425,-5.724],[7.428,-5.704],[7.431,-5.707],[7.434,-5.710],[7.436,-5.705],[7.439,-5.709],[7.442,-5.720],[7.445,-5.724],[7.448,-5.725],[7.450,-5.729],[7.453,-5.725],[7.456,-5.712],[7.459,-5.709],[7.462,-5.704],[7.464,-5.702],[7.467,-5.705],[7.470,-5.715],[7.473,-5.720],[7.476,-5.724],[7.478,-5.727],[7.481,-5.730],[7.484,-5.734],[7.487,-5.739],[7.490,-5.735],[7.492,-5.730],[7.495,-5.725],[7.498,-5.720]];

function pairs(xs, ys) {
    return xs.map(function (x, i) { return [x, ys[i]]; });
}

function withErr(pts, err) {
    return pts.map(function (p, i) { return [p[0], p[1], err[i]]; });
}

function minusSign(v) {
    return String(v).replace('-', '\u2212');
}

// one labelled axis plus mirror axes; the extra ones only carry the long ticks
function axisSet(dim, grid, min, max, minor, major, labels, labelOpt) {
    var sides = dim === 'x' ? ['bottom', 'top'] : ['left', 'right'];
    var out = [];
    sides.forEach(function (side, s) {
        [minor, major].forEach(function (ticks, k) {
            out.push({
                type: 'value', gridIndex: grid, position: side, min: min, max: max,
                axisLine: {show: k === 0, onZero: false, lineStyle: {color: '#000', width: 2}},
                axisTick: {show: true, inside: true, length: k ? 15 : 7, customValues: ticks,
                           lineStyle: {color: '#000', width: 1.5}},
                axisLabel: (s === 0 && k === 0) ? Object.assign({
                    show: true, customValues: labels, color: '#000',
                    fontSize: 28, fontFamily: FONT, formatter: minusSign
                }, labelOpt) : {show: false},
                splitLine: {show: false},
                silent: true
            });
        });
    });
    return out;
}

function errorBars(pts, err, color) {
    return {
        type: 'custom', xAxisIndex: 0, yAxisIndex: 0, silent: true,
        data: withErr(pts, err),
        renderItem: function (params, api) {
            var x = api.value(0), y = api.value(1), e = api.value(2);
            var lo = api.coord([x, y - e]), hi = api.coord([x, y + e]);
            return {
                type: 'line',
                shape: {x1: lo[0], y1: lo[1], x2: hi[0], y2: hi[1]},
                style: {stroke: color, lineWidth: 2}
            };
        }
    };
}

function modelLine(ys, color, g) {
    return {
        type: 'line', xAxisIndex: g * 4, yAxisIndex: g * 4, symbol: 'none', silent: true,
        data: g === 0 ? pairs(freqKnots, ys) : ys,
        lineStyle: {color: color, width: 2}
    };
}

function dots(data, g, size, color, shape, name) {
    return {
        name: name, type: 'scatter', xAxisIndex: g * 4, yAxisIndex: g * 4,
        symbol: shape || 'circle', symbolSize: size, silent: true,
        itemStyle: {color: color, opacity: 1}, data: data
    };
}

function text(x, y, str, extra) {
    return {
        type: 'text', x: x, y: y, silent: true,
        style: Object.assign({
            text: str, fill: '#000', fontSize: 28, fontFamily: FONT,
            align: 'left', verticalAlign: 'middle'
        }, extra || {})
    };
}

var supStar = {fontSize: 18, fontFamily: FONT, verticalAlign: 'top', lineHeight: 18};
var subRich = {fontSize: 14, fontFamily: FONT, verticalAlign: 'bottom', lineHeight: 14};

function modelLabel(x, y) {
    return text(x, y, 'Model  D{p|*}', {fontSize: 26, lineHeight: 32, rich: {p: supStar}});
}

function cepLabel(x, y) {
    return text(x, y, '{m|\u03bc}  Cep  /  {i|A}{s|v}{i|=1.5}', {
        fontSize: 27, lineHeight: 40,
        rich: {
            m: {fontSize: 27, fontStyle: 'italic', fontFamily: FONT},
            i: {fontSize: 27, fontStyle: 'italic', fontFamily: FONT},
            s: {fontSize: 21, fontStyle: 'italic', fontFamily: FONT, verticalAlign: 'bottom', lineHeight: 21}
        }
    });
}

function h2o(x, y) {
    return text(x, y, 'H{s|2}O', {fontSize: 20, lineHeight: 30, rich: {s: subRich}});
}

function fluxTitle(y) {
    var t = text(21, y, 'log {f|F}{s|\u03bd}{p|*}', {
        align: 'center', fontSize: 28, lineHeight: 42,
        rich: {
            f: {fontSize: 28, fontStyle: 'italic', fontFamily: '"DejaVu Serif", serif'},
            s: {fontSize: 20, fontStyle: 'italic', fontFamily: '"DejaVu Serif", serif', verticalAlign: 'bottom', lineHeight: 20},
            p: {fontSize: 20, fontFamily: FONT, verticalAlign: 'top', lineHeight: 20}
        }
    });
    t.rotation = Math.PI / 2;
    return t;
}

var chart = echarts.init(document.getElementById('chart'), null, {renderer: 'canvas'});

var rotY = {rotate: 90, margin: 12};
var flatX = {margin: 13};

var option = {
    backgroundColor: '#fff',
    animation: false,
    grid: [
        {left: 92, top: 4, width: 718, height: 403, containLabel: false, outerBoundsMode: 'none'},
        {left: 92, top: 567, width: 718, height: 402, containLabel: false, outerBoundsMode: 'none'},
        {left: 92, top: 1098, width: 718, height: 402, containLabel: false, outerBoundsMode: 'none'}
    ],
    xAxis: [].concat(
        axisSet('x', 0, 0, 50, freqTicks, freqMajor, freqLabels, flatX),
        axisSet('x', 1, 0.8, 3.1, nirTicks, nirMajor, nirLabels, flatX),
        axisSet('x', 2, 6, 7.5, midTicks, midMajor, midLabels, flatX)
    ),
    yAxis: [].concat(
        axisSet('y', 0, 0.4, 1.0, visTicks, visMajor, visLabels, rotY),
        axisSet('y', 1, -5.35, -4.75, nirFluxTicks, nirFluxMajor, nirFluxLabels, rotY),
        axisSet('y', 2, -5.77, -5.57, midFluxTicks, midFluxMajor, midFluxLabels, rotY)
    ),
    legend: {
        orient: 'vertical', left: 135, top: 215, align: 'right',
        itemWidth: 9, itemHeight: 9, itemGap: 6, selectedMode: false,
        textStyle: {fontSize: 27, fontFamily: FONT},
        formatter: function (name) { return name + '   '; },
        data: [
            {name: starNames[0], icon: 'rect', textStyle: {color: PURPLE}},
            {name: starNames[1], icon: 'circle', textStyle: {color: GREEN}},
            {name: starNames[2], icon: 'triangle', textStyle: {color: ORANGE}},
            {name: starNames[3], icon: 'circle', textStyle: {color: RED}}
        ]
    },
    series: [
        // panel a
        modelLine(modelK239, RED, 0),
        modelLine(modelK203, PURPLE, 0),
        modelLine(modelK215, GREEN, 0),
        modelLine(modelK222, ORANGE, 0),
        errorBars(obsK203, errK203, PURPLE),
        errorBars(obsK215, errK215, GREEN),
        errorBars(obsK222, errK222, ORANGE),
        errorBars(obsK239, errK239, RED),
        dots(obsK203, 0, 7, PURPLE, 'rect', starNames[0]),
        dots(obsK215, 0, 7, GREEN, 'circle', starNames[1]),
        dots(obsK222, 0, [11, 10], ORANGE, 'triangle', starNames[2]),
        dots(obsK239, 0, 7, RED, 'circle', starNames[3]),
        // panel b
        modelLine(nirBlue, BLUE, 1),
        modelLine(nirGreen, GREEN, 1),
        dots(nirObs, 1, 7, RED),
        // panel c
        modelLine(midBlue, BLUE, 2),
        modelLine(midGreen, GREEN, 2),
        dots(midObs, 2, 5, RED)
    ],
    graphic: [
        // panel a
        text(123, 50, 'a)'),
        modelLabel(639, 62),
        text(647, 223, '3', {align: 'center', fill: ORANGE}),
        text(647, 249, '2', {align: 'center', fill: GREEN}),
        text(647, 290, '1', {align: 'center', fill: PURPLE}),
        text(647, 337, '4', {align: 'center', fill: RED}),
        text(487, 464, 'Spatial Frequency (cycles/arcsec)', {align: 'center', fontSize: 30}),
        Object.assign(text(21, 206, 'Visibility', {align: 'center', fontSize: 28}), {rotation: Math.PI / 2}),
        // panel b
        text(110, 615, 'b)'),
        modelLabel(625, 626),
        text(140, 866, 'CN', {fontSize: 19}),
        text(188, 808, 'CN', {fontSize: 19}),
        text(277, 652, 'CN', {fontSize: 19}),
        text(463, 626, 'CN', {fontSize: 19}),
        text(572, 741, 'CO', {fontSize: 19}),
        h2o(268, 792),
        h2o(398, 730),
        cepLabel(233, 901),
        text(710, 1022, '\u03bb(\u03bcm)', {align: 'center'}),
        fluxTitle(766),
        // panel c
        text(118, 1138, 'c)'),
        cepLabel(237, 1151),
        modelLabel(643, 1180),
        text(710, 1556, '\u03bb(\u03bcm)', {align: 'center'}),
        fluxTitle(1286)
    ]
};

chart.setOption(option);
</script>
</body>
</html>
